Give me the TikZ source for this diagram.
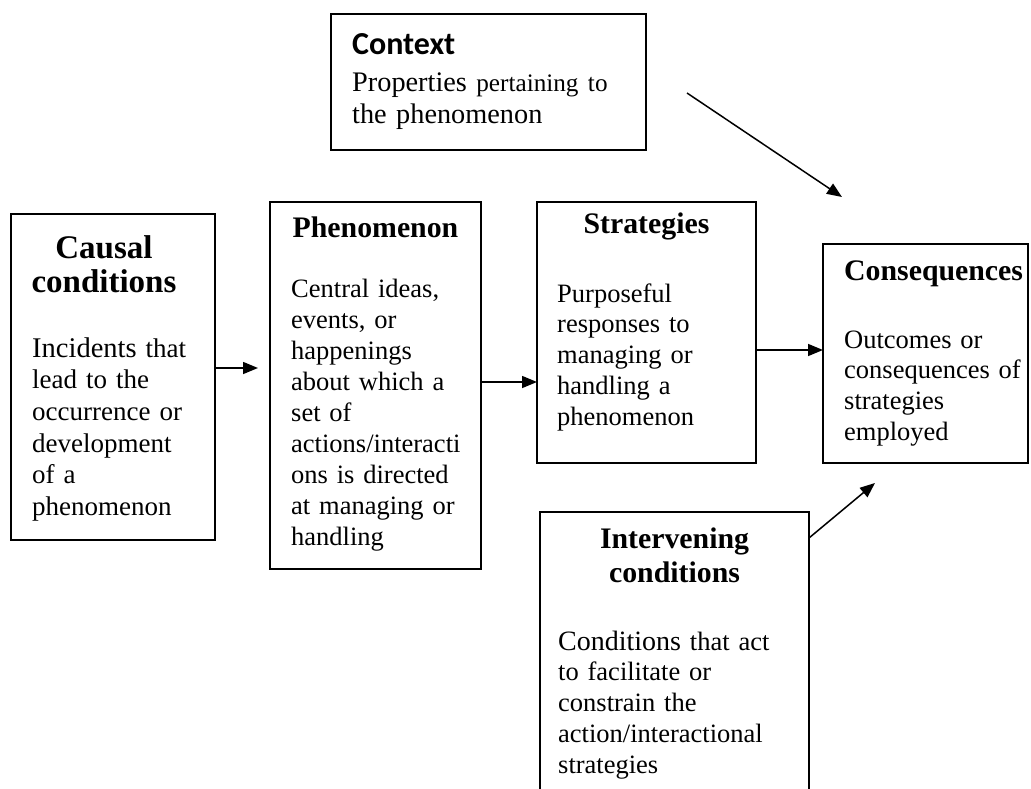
\documentclass[tikz,border=0pt]{standalone}
\usepackage{fontspec}
\setmainfont{Liberation Serif}
\newfontfamily\calibri{Carlito}
\usetikzlibrary{arrows.meta}
\begin{document}
\begin{tikzpicture}[x=1pt,y=-1pt,
  box/.style={draw, line width=1.6pt, anchor=north west, inner sep=0pt, outer sep=0pt},
  body/.style={anchor=north west, inner sep=0pt, align=left, text width=250pt, font=\fontsize{26.5}{30.75}\selectfont},
  head/.style={anchor=north, inner sep=0pt, align=center, text width=250pt, font=\bfseries\fontsize{29.8}{34}\selectfont},
  arr/.style={line width=1.5pt, -{Triangle[length=15pt,width=12pt]}}]
\useasboundingbox (0,0) rectangle (1031,789);
\clip (0,0) rectangle (1031,789);
\fill[white] (0,0) rectangle (1031,789);
% boxes
\node[box, minimum width=315pt, minimum height=136pt] (ctx) at (331,14) {};
\node[box, minimum width=204pt, minimum height=326pt] (cau) at (11,214) {};
\node[box, minimum width=211pt, minimum height=367pt] (phe) at (270,202) {};
\node[box, minimum width=219pt, minimum height=261pt] (str) at (537,202) {};
\node[box, minimum width=205pt, minimum height=219pt] (con) at (823,244) {};
\node[box, minimum width=269pt, minimum height=320pt] (int) at (540,512) {};
% context text
\node[anchor=base west, inner sep=0pt, font=\calibri\bfseries\fontsize{32}{36}\selectfont] (ctxh) at (352,55) {Context};
\node[anchor=north west, inner sep=0pt, align=left, text width=290pt, font=\fontsize{28.3}{32}\selectfont] (ctxb) at (352,68.6)
  {\strut Properties {\fontsize{25.2}{32}\selectfont pertaining to}\\the phenomenon};
% causal
\node[head, font=\bfseries\fontsize{33}{34}\selectfont] (cauh) at (104,234.2) {\strut Causal\\conditions};
\node[body, font=\fontsize{27}{31.7}\selectfont] (caub) at (32,334.8) {\strut{\fontsize{28.5}{31.7}\selectfont Incidents} that\\lead to the\\occurrence or\\development\\of a\\phenomenon};
% phenomenon
\node[head] (pheh) at (375.5,213.2) {\strut Phenomenon};
\node[body, font=\fontsize{26.5}{31}\selectfont] (pheb) at (291,275.3) {\strut Central ideas,\\events, or\\happenings\\about which a\\set of\\actions/interacti\\ons is directed\\at managing or\\handling};
% strategies
\node[head] (strh) at (646.5,209.2) {\strut Strategies};
\node[body] (strb) at (557,280.5) {\strut Purposeful\\responses to\\managing or\\handling a\\phenomenon};
% consequences
\node[head, anchor=north west, align=left] (conh) at (844,256.2) {\strut Consequences};
\node[body] (conb) at (844,326.5) {\strut Outcomes or\\consequences of\\strategies\\employed};
% intervening
\node[head] (inth) at (674.5,524.2) {\strut Intervening\\conditions};
\node[body] (intb) at (558,628.5) {\strut{\fontsize{28}{30.75}\selectfont Conditions} that act\\to facilitate or\\constrain the\\action/interactional\\strategies};
% connectors
\coordinate (ctxa) at (687,93);
\coordinate (cona) at (842,197);
\coordinate (conc) at (875,483);
\draw[arr, shorten >=12pt] (cau.east |- 0,368) -- (phe.west |- 0,368);
\draw[arr] (phe.east |- 0,382) -- (str.west |- 0,382);
\draw[arr] (str.east |- 0,350) -- (con.west |- 0,350);
\draw[arr] (ctxa) -- (cona);
\draw[arr] (int.north east |- 0,538) -- (conc);
\end{tikzpicture}
\end{document}
